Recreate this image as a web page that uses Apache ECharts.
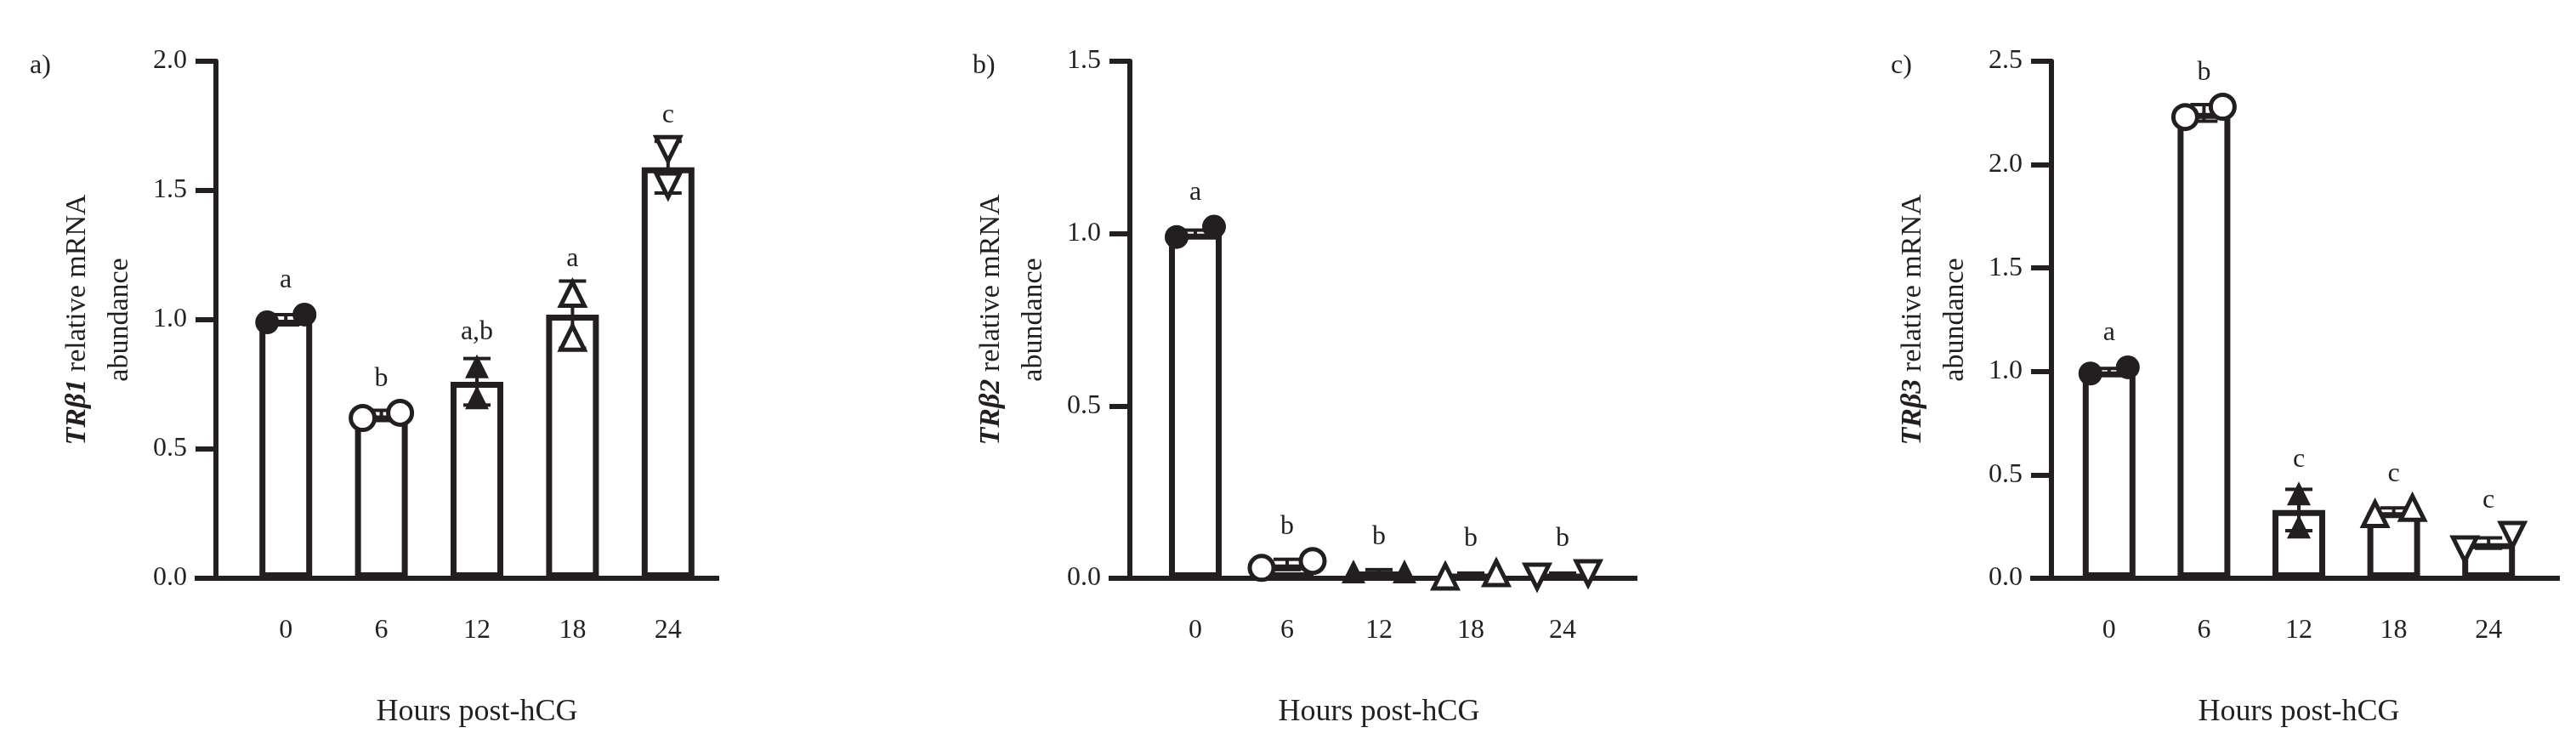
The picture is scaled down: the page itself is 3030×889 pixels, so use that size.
<!DOCTYPE html>
<html>
<head>
<meta charset="utf-8">
<script src="https://cdn.jsdelivr.net/npm/echarts@6/dist/echarts.min.js"></script>
<style>html,body{margin:0;background:#fff}#main{width:3030px;height:889px}</style>
</head>
<body>
<div id="main"></div>
<script>
// data
var hours = ['0', '6', '12', '18', '24'];
var letters = {
    a: ['a', 'b', 'a,b', 'a', 'c'],
    b: ['a', 'b', 'b', 'b', 'b'],
    c: ['a', 'b', 'c', 'c', 'c']
};
var means = {
    a: [1.00, 0.63, 0.76, 1.02, 1.59],
    b: [1.00, 0.04, 0.02, 0.01, 0.01],
    c: [1.00, 2.25, 0.33, 0.32, 0.17]
};
var errs = {
    a: [0.02, 0.02, 0.09, 0.13, 0.10],
    b: [0.01, 0.015, 0.005, 0.005, 0.005],
    c: [0.015, 0.04, 0.10, 0.02, 0.025]
};
var rep1 = {
    a: [0.99, 0.62, 0.82, 1.10, 1.66],
    b: [0.99, 0.03, 0.02, 0.005, 0.005],
    c: [0.99, 2.23, 0.41, 0.31, 0.14]
};
var rep2 = {
    a: [1.02, 0.64, 0.70, 0.93, 1.52],
    b: [1.02, 0.05, 0.02, 0.015, 0.015],
    c: [1.02, 2.28, 0.25, 0.34, 0.21]
};
var yMax = { a: 2.0, b: 1.5, c: 2.5 };
var yStep = 0.5;
var genes = { a: 'TRβ1', b: 'TRβ2', c: 'TRβ3' };

// style: per-panel layout and point spread
var panels = [
    { key: 'a', axisX: 254, left: 280, width: 562, end: 846, tag: 1, spread: [22, 22, 0, 0, 0] },
    { key: 'b', axisX: 1329, left: 1352, width: 540, end: 1926, tag: 1110, spread: [22, 30, 30, 30, 30] },
    { key: 'c', axisX: 2413, left: 2425, width: 558, end: 3011, tag: 2190, spread: [22, 22, 0, 22, 28] }
];
var symbols = ['circle', 'circle', 'triangle', 'triangle', 'triangle'];
var filled = [true, false, true, false, false];
var rotates = [0, 0, 0, 0, 180];
var top0 = 72, zeroY = 680, ink = '#231f20', font = 'Liberation Serif';

var myChart = echarts.init(document.getElementById('main'));
var grid = [], xAxis = [], yAxis = [], series = [], graphic = [];

panels.forEach(function (p, i) {
    var k = p.key;
    grid.push({ left: p.left, width: p.width, top: top0, height: zeroY - top0 });
    xAxis.push({
        type: 'category', gridIndex: i, data: hours,
        name: 'Hours post-hCG', nameLocation: 'middle', nameGap: 140,
        nameTextStyle: { fontFamily: font, fontSize: 36, color: ink },
        axisLine: { lineStyle: { color: ink, width: 6 } },
        axisTick: { alignWithLabel: true, length: 26, lineStyle: { color: ink, width: 6 } },
        axisLabel: { margin: 46, fontFamily: font, fontSize: 32, color: ink }
    });
    yAxis.push({
        type: 'value', gridIndex: i, min: 0, max: yMax[k], interval: yStep,
        offset: p.left - p.axisX,
        name: '{i|' + genes[k] + '}{n| relative mRNA}\n{n|abundance}',
        nameLocation: 'middle', nameGap: 88,
        nameTextStyle: {
            rich: {
                i: { fontFamily: font, fontStyle: 'italic', fontWeight: 'bold', fontSize: 34, color: ink, lineHeight: 50 },
                n: { fontFamily: font, fontSize: 34, color: ink, lineHeight: 50 }
            }
        },
        splitLine: { show: false },
        axisLine: { show: true, lineStyle: { color: ink, width: 6 } },
        axisTick: { show: true, length: 24, lineStyle: { color: ink, width: 6 } },
        axisLabel: { margin: 34, fontFamily: font, fontSize: 32, color: ink,
            formatter: function (v) { return v.toFixed(1); } }
    });
    series.push({
        type: 'bar', xAxisIndex: i, yAxisIndex: i, data: means[k], barWidth: 62,
        itemStyle: { color: '#fff', borderColor: ink, borderWidth: 7 }, z: 2
    });
    // error bars + significance letters
    series.push({
        type: 'custom', xAxisIndex: i, yAxisIndex: i, z: 4,
        data: means[k].map(function (m, j) { return [j, m, errs[k][j], letters[k][j]]; }),
        renderItem: function (params, api) {
            var j = api.value(0);
            var hi = api.coord([j, api.value(1) + api.value(2)]);
            var lo = api.coord([j, api.value(1) - api.value(2)]);
            var st = { stroke: ink, lineWidth: 4 };
            var topY = Math.min(hi[1], api.coord([j, Math.max(rep1[k][j], rep2[k][j])])[1] - 14);
            return { type: 'group', children: [
                { type: 'line', shape: { x1: hi[0], y1: hi[1], x2: hi[0], y2: lo[1] }, style: st },
                { type: 'line', shape: { x1: hi[0] - 16, y1: hi[1], x2: hi[0] + 16, y2: hi[1] }, style: st },
                { type: 'line', shape: { x1: lo[0] - 16, y1: lo[1], x2: lo[0] + 16, y2: lo[1] }, style: st },
                { type: 'text', style: { text: api.value(3), x: hi[0], y: topY - 10,
                    textAlign: 'center', textVerticalAlign: 'bottom', fontFamily: font, fontSize: 32, fill: ink } }
            ] };
        }
    });
    [rep1[k], rep2[k]].forEach(function (rep, r) {
        series.push({
            type: 'scatter', xAxisIndex: i, yAxisIndex: i, z: 5,
            data: rep.map(function (v, j) {
                return {
                    value: [j, v], symbol: symbols[j], symbolRotate: rotates[j],
                    symbolOffset: [(r === 0 ? -1 : 1) * p.spread[j], 0],
                    itemStyle: { opacity: 1, color: filled[j] ? ink : '#fff', borderColor: ink, borderWidth: filled[j] ? 0 : 5 }
                };
            }),
            symbolSize: 28
        });
    });
    graphic.push({ type: 'line', shape: { x1: p.axisX - 25, y1: zeroY, x2: p.left, y2: zeroY },
        style: { stroke: ink, lineWidth: 6 } });
    graphic.push({ type: 'line', shape: { x1: p.left + p.width, y1: zeroY, x2: p.end, y2: zeroY },
        style: { stroke: ink, lineWidth: 6 } });
    graphic.push({ type: 'text', left: p.tag + 34, top: 62,
        style: { text: k + ')', fontFamily: font, fontSize: 32, fill: ink } });
});

option = {
    backgroundColor: '#fff',
    animation: false,
    grid: grid, xAxis: xAxis, yAxis: yAxis, series: series, graphic: graphic
};
myChart.setOption(option);
</script>
</body>
</html>
